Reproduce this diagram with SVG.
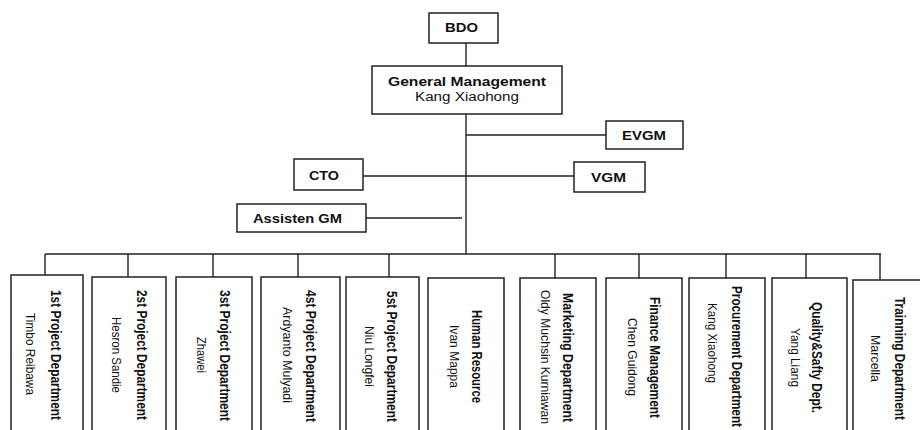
<svg xmlns="http://www.w3.org/2000/svg" width="920" height="430" viewBox="0 0 920 430">
<style>
.box{fill:#fff;stroke:#222;stroke-width:1.5}
.ln{stroke:#222;stroke-width:1.4;fill:none}
.t{font-family:"Liberation Sans",Arial,sans-serif;fill:#111}
.b{font-weight:bold;font-size:13.5px}
.n{font-size:12.5px}
.vb{font-weight:bold;font-size:11.5px}
.vn{font-size:10.5px}
</style>
<rect width="920" height="430" fill="#fff"/>
<g id="connectors">
<path class="ln" d="M466 43V66M466 114V254M466 135H606M363 176H574M366 218H462M45 254H881"/>
<path class="ln" d="M45 254V275M128 254V277M213 254V277M298 254V277M389 254V277M555 254V278M639 254V278M726 254V278M806 254V278M880 254V280"/>
</g>
<g id="bdo"><rect class="box" x="429" y="13" width="69" height="30"/><text class="t b" x="445" y="32" textLength="33" lengthAdjust="spacingAndGlyphs">BDO</text></g>
<g id="gm"><rect class="box" x="372" y="66" width="190" height="48"/><text class="t b" x="388" y="86" textLength="158" lengthAdjust="spacingAndGlyphs">General Management</text><text class="t n" x="415" y="101" textLength="104" lengthAdjust="spacingAndGlyphs">Kang Xiaohong</text></g>
<g id="evgm"><rect class="box" x="606" y="121" width="77" height="28"/><text class="t b" x="622" y="140" textLength="44" lengthAdjust="spacingAndGlyphs">EVGM</text></g>
<g id="cto"><rect class="box" x="294" y="159" width="69" height="31"/><text class="t b" x="309" y="180" textLength="30" lengthAdjust="spacingAndGlyphs">CTO</text></g>
<g id="vgm"><rect class="box" x="574" y="162" width="71" height="30"/><text class="t b" x="591" y="182" textLength="35" lengthAdjust="spacingAndGlyphs">VGM</text></g>
<g id="assisten"><rect class="box" x="237" y="204" width="129" height="28"/><text class="t b" x="253" y="223" textLength="89" lengthAdjust="spacingAndGlyphs">Assisten GM</text></g>

<g id="dept1"><path class="box" d="M11 430V275H83V430"/>
<text class="t vb" transform="translate(51,290) rotate(90) scale(1,1.25)" textLength="130" lengthAdjust="spacingAndGlyphs">1st Project Department</text>
<text class="t vn" transform="translate(26,313) rotate(90) scale(1,1.25)" textLength="82" lengthAdjust="spacingAndGlyphs">Timbo Reibawa</text></g>
<g id="dept2"><path class="box" d="M92 430V277H166V430"/>
<text class="t vb" transform="translate(137,290) rotate(90) scale(1,1.25)" textLength="130" lengthAdjust="spacingAndGlyphs">2st Project Department</text>
<text class="t vn" transform="translate(112,317) rotate(90) scale(1,1.25)" textLength="76" lengthAdjust="spacingAndGlyphs">Hesron Sandie</text></g>
<g id="dept3"><path class="box" d="M176 430V277H252V430"/>
<text class="t vb" transform="translate(220,290) rotate(90) scale(1,1.25)" textLength="131" lengthAdjust="spacingAndGlyphs">3st Project Department</text>
<text class="t vn" transform="translate(197,337) rotate(90) scale(1,1.25)" textLength="36" lengthAdjust="spacingAndGlyphs">Zhawei</text></g>
<g id="dept4"><path class="box" d="M261 430V277H340V430"/>
<text class="t vb" transform="translate(306,290) rotate(90) scale(1,1.25)" textLength="132" lengthAdjust="spacingAndGlyphs">4st Project Department</text>
<text class="t vn" transform="translate(283,307) rotate(90) scale(1,1.25)" textLength="96" lengthAdjust="spacingAndGlyphs">Ardyanto Mulyadi</text></g>
<g id="dept5"><path class="box" d="M346 430V277H419V430"/>
<text class="t vb" transform="translate(387,291) rotate(90) scale(1,1.25)" textLength="131" lengthAdjust="spacingAndGlyphs">5st Project Department</text>
<text class="t vn" transform="translate(365,326) rotate(90) scale(1,1.25)" textLength="61" lengthAdjust="spacingAndGlyphs">Niu Longfei</text></g>
<g id="hr"><path class="box" d="M428 430V278H504V430"/>
<text class="t vb" transform="translate(472,310) rotate(90) scale(1,1.25)" textLength="93" lengthAdjust="spacingAndGlyphs">Human Resource</text>
<text class="t vn" transform="translate(450,325) rotate(90) scale(1,1.25)" textLength="63" lengthAdjust="spacingAndGlyphs">Ivan Mappa</text></g>
<g id="marketing"><path class="box" d="M520 430V278H596V430"/>
<text class="t vb" transform="translate(563,293) rotate(90) scale(1,1.25)" textLength="129" lengthAdjust="spacingAndGlyphs">Marketing Department</text>
<text class="t vn" transform="translate(541,290) rotate(90) scale(1,1.25)" textLength="134" lengthAdjust="spacingAndGlyphs">Oldy Muchsin Kurniawan</text></g>
<g id="finance"><path class="box" d="M606 430V278H682V430"/>
<text class="t vb" transform="translate(650,297) rotate(90) scale(1,1.25)" textLength="121" lengthAdjust="spacingAndGlyphs">Finance Management</text>
<text class="t vn" transform="translate(628,318) rotate(90) scale(1,1.25)" textLength="78" lengthAdjust="spacingAndGlyphs">Chen Guidong</text></g>
<g id="procurement"><path class="box" d="M689 430V278H765V430"/>
<text class="t vb" transform="translate(732,286) rotate(90) scale(1,1.25)" textLength="141" lengthAdjust="spacingAndGlyphs">Procurement Department</text>
<text class="t vn" transform="translate(708,303) rotate(90) scale(1,1.25)" textLength="80" lengthAdjust="spacingAndGlyphs">Kang Xiaohong</text></g>
<g id="quality"><path class="box" d="M772 430V278H847V430"/>
<text class="t vb" transform="translate(812,302) rotate(90) scale(1,1.25)" textLength="111" lengthAdjust="spacingAndGlyphs">Quality&amp;Safty Dept.</text>
<text class="t vn" transform="translate(791,328) rotate(90) scale(1,1.25)" textLength="59" lengthAdjust="spacingAndGlyphs">Yang Liang</text></g>
<g id="training"><path class="box" d="M853 430V280H920"/>
<text class="t vb" transform="translate(895,297) rotate(90) scale(1,1.25)" textLength="123" lengthAdjust="spacingAndGlyphs">Trainning Department</text>
<text class="t vn" transform="translate(871,335) rotate(90) scale(1,1.25)" textLength="47" lengthAdjust="spacingAndGlyphs">Marcella</text></g>
</svg>
